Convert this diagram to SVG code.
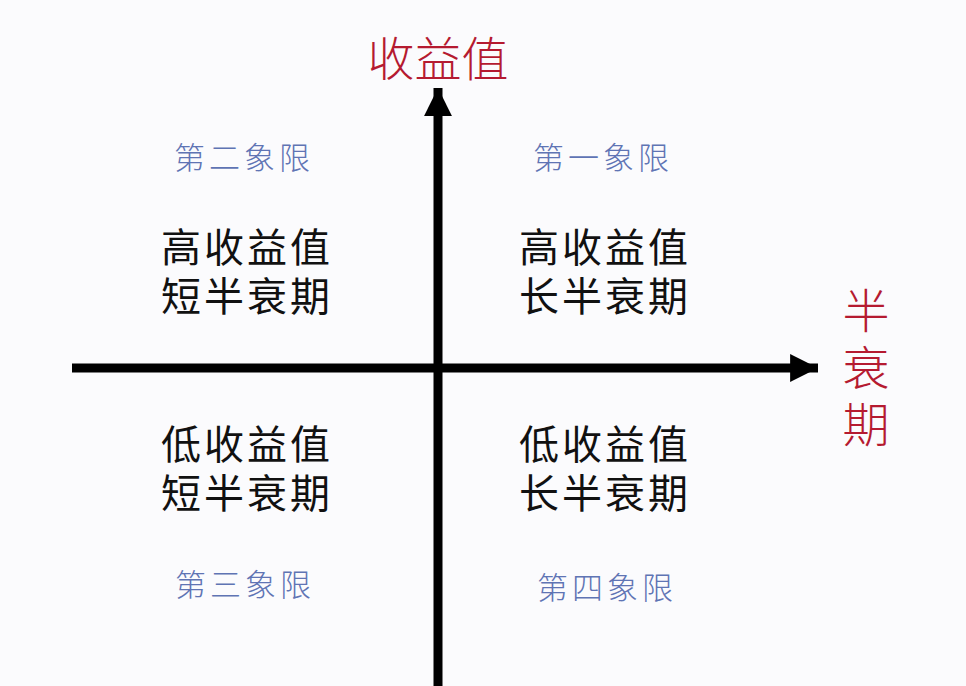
<svg xmlns="http://www.w3.org/2000/svg" width="966" height="686" viewBox="0 0 966 686">
<style>
text{font-family:"Noto Sans CJK SC","Noto Sans CJK JP",sans-serif;text-anchor:middle;dominant-baseline:central}
.axis{fill:#b51a30;font-size:47px;font-weight:300}
.q{fill:#5f74b4;font-size:31px;letter-spacing:4px;font-weight:300}
.t{fill:#111;font-size:40px;letter-spacing:3px}
</style>
<defs>
<marker id="ah" viewBox="0 0 10 10" refX="10" refY="5" markerWidth="3.1" markerHeight="3.1" markerUnits="strokeWidth" orient="auto">
<path d="M0,0 L10,5 L0,10 Z" fill="#000"/>
</marker>
</defs>
<rect width="966" height="686" fill="#fbfbfd"/>
<g id="connectors">
<line x1="438" y1="686" x2="438" y2="88" stroke="#000" stroke-width="9" marker-end="url(#ah)"/>
<line x1="72" y1="368" x2="818" y2="368" stroke="#000" stroke-width="9" marker-end="url(#ah)"/>
</g>
<g id="y-axis-label"><text class="axis" x="438" y="55">收益值</text></g>
<g id="x-axis-label">
<text class="axis" x="866" y="307">半<tspan x="866" dy="57">衰</tspan><tspan x="866" dy="57">期</tspan></text>
</g>
<g id="q2">
<text class="q" x="244" y="155">第二象限</text>
<text class="t" x="247" y="245">高收益值<tspan x="247" dy="49">短半衰期</tspan></text>
</g>
<g id="q1">
<text class="q" x="603" y="155">第一象限</text>
<text class="t" x="605" y="245">高收益值<tspan x="605" dy="49">长半衰期</tspan></text>
</g>
<g id="q3">
<text class="t" x="247" y="442">低收益值<tspan x="247" dy="49">短半衰期</tspan></text>
<text class="q" x="245" y="582">第三象限</text>
</g>
<g id="q4">
<text class="t" x="605" y="442">低收益值<tspan x="605" dy="49">长半衰期</tspan></text>
<text class="q" x="607" y="585">第四象限</text>
</g>
</svg>
